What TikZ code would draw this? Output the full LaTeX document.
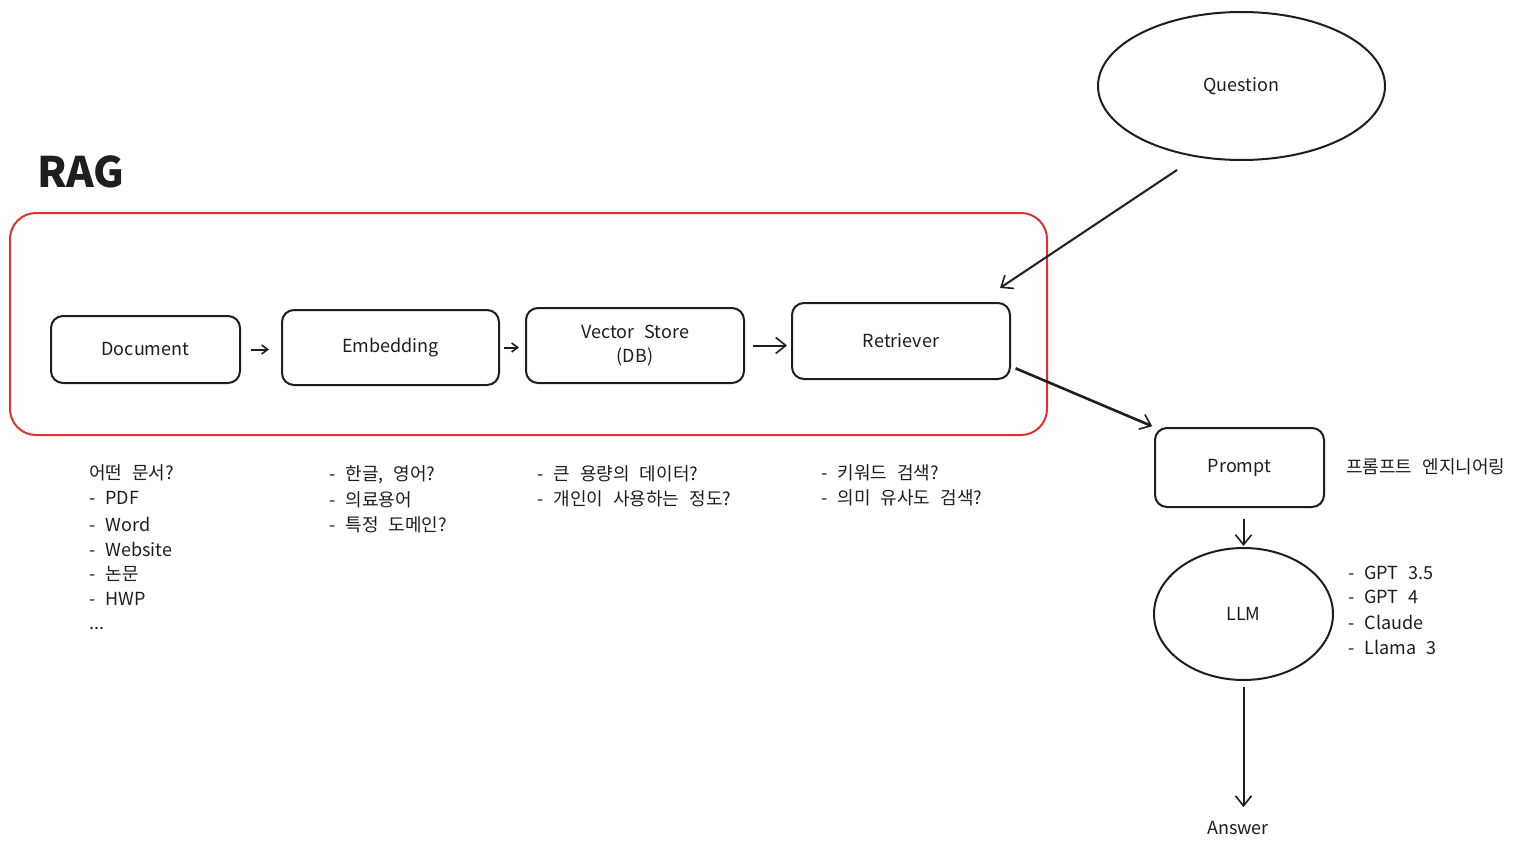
\documentclass[tikz,border=0pt]{standalone}
\usepackage{fontspec}
\setmainfont[WordSpace=2.5]{Noto Sans CJK KR}
\usetikzlibrary{shapes.geometric,arrows.meta}
\definecolor{ink}{HTML}{1E1E1E}
\definecolor{ragred}{HTML}{E03131}
\tikzset{
  boxnode/.style={draw=ink, line width=2pt, rounded corners=12pt, font=\fontsize{18}{22}\selectfont, text=ink, align=center, inner sep=0pt},
  ellnode/.style={draw=ink, line width=2pt, ellipse, font=\fontsize{18}{22}\selectfont, text=ink, inner sep=0pt},
  arr/.style={draw=ink, line width=2pt, -{Straight Barb[length=10pt, width=16pt, line width=1.6pt]}},
  smallarr/.style={draw=ink, line width=2pt, -{Straight Barb[length=6pt, width=9pt, line width=1.6pt]}},
  note/.style={anchor=west, inner sep=0pt, font=\fontsize{18}{22}\selectfont, text=ink},
}
\begin{document}
\begin{tikzpicture}[x=1pt, y=-1pt]
\useasboundingbox[fill=white] (0,0) rectangle (1521,851);

% title
\node[anchor=west, inner sep=0pt, font=\fontsize{42}{46}\selectfont\bfseries, text=ink] (ragtitle) at (37,172) {RAG};

% red frame
\draw[ragred, line width=2pt, rounded corners=26pt] (10,213) rectangle (1047,435);

% pipeline boxes
\node[boxnode, minimum width=189pt, minimum height=67pt] (doc) at (145.5,349.5) {Document};
\node[boxnode, minimum width=217pt, minimum height=75pt] (emb) at (390.5,347.5) {Embedding};
\node[boxnode, minimum width=218pt, minimum height=75pt, font=\fontsize{18}{24}\selectfont] (vs) at (635,345.5) {Vector Store\\(DB)};
\node[boxnode, minimum width=218pt, minimum height=76pt] (ret) at (901,341) {Retriever};

\draw[smallarr, shorten <=10pt, shorten >=12pt] (doc.east) -- (emb.west |- doc.east);
\draw[smallarr, shorten <=4pt, shorten >=6pt] (emb.east) -- (vs.west |- emb.east);
\draw[arr, shorten <=8pt, shorten >=4pt] (vs.east) -- (ret.west |- vs.east);

% question
\node[ellnode, minimum width=287pt, minimum height=148pt] (q) at (1241.5,86) {Question};
\coordinate (qstart) at (1177,170);
\coordinate (rettop) at (1000,288);
\draw[arr] (qstart) -- (rettop);

% prompt
\node[boxnode, minimum width=169pt, minimum height=79pt] (prompt) at (1239.5,467.5) {Prompt};
\draw[arr, line width=2.6pt, shorten <=5pt, shorten >=2pt] (ret.-13) -- (prompt.north west);
\node[note] (pe) at (1346,467) {프롬프트 엔지니어링};

% LLM
\node[ellnode, minimum width=179pt, minimum height=132pt] (llm) at (1243.5,614) {LLM};
\draw[arr, shorten <=11pt, shorten >=1pt] (prompt.south -| llm.north) -- (llm.north);
\node[anchor=center, inner sep=0pt, font=\fontsize{18}{22}\selectfont, text=ink] (ans) at (1238,828) {Answer};
\draw[arr, shorten <=6pt, shorten >=14pt] (llm.south) -- (ans.north -| llm.south);

% notes
\node[note] (docnote1) at (89,473) {어떤 문서?};
\node[note] (docnote2) at (89,498) {- PDF};
\node[note] (docnote3) at (89,524) {- Word};
\node[note] (docnote4) at (89,549) {- Website};
\node[note] (docnote5) at (89,574) {- 논문};
\node[note] (docnote6) at (89,599) {- HWP};
\node[note] (docnote7) at (89,628) {...};

\node[note] (embnote1) at (329,475) {- 한글, 영어?};
\node[note] (embnote2) at (329,500) {- 의료용어};
\node[note] (embnote3) at (329,525) {- 특정 도메인?};

\node[note] (vsnote1) at (537,474) {- 큰 용량의 데이터?};
\node[note] (vsnote2) at (537,499) {- 개인이 사용하는 정도?};

\node[note] (retnote1) at (821,473) {- 키워드 검색?};
\node[note] (retnote2) at (821,498) {- 의미 유사도 검색?};

\node[note] (llmnote1) at (1348,573) {- GPT 3.5};
\node[note] (llmnote2) at (1348,597) {- GPT 4};
\node[note] (llmnote3) at (1348,622) {- Claude};
\node[note] (llmnote4) at (1348,647) {- Llama 3};
\end{tikzpicture}
\end{document}
